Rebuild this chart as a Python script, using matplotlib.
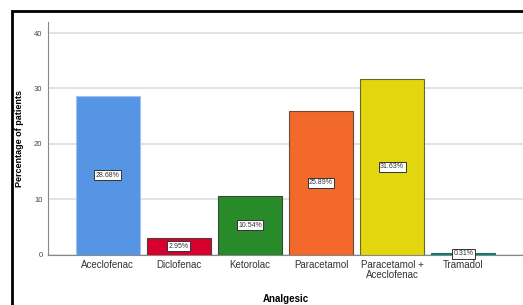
import matplotlib.pyplot as plt
from matplotlib.patches import Rectangle

plt.rcParams['font.family'] = ['Liberation Sans', 'DejaVu Sans']

# analgesic use (percentage of patients)
drugs = ["Aceclofenac", "Diclofenac", "Ketorolac", "Paracetamol",
         "Paracetamol +\nAceclofenac", "Tramadol"]
percent = [28.68, 2.95, 10.54, 25.89, 31.63, 0.31]
bar_colors = ["#5694e4", "#d8002e", "#298a2a", "#f2692b", "#e2d60f", "#157a6c"]
edge_colors = ["#9fc3ee", "#5a3a3a", "#3a4a3a", "#6a4a3a", "#6a6430", "#157a6c"]
yticks = [0, 10, 20, 30, 40]

fig = plt.figure(figsize=(5.23, 3.05), dpi=100)
ax = fig.add_axes([48/523, 1 - 254.5/305, (523 - 48)/523, (254.5 - 22)/305])

x = range(len(drugs))
ax.bar(x, percent, width=0.9, color=bar_colors, edgecolor=edge_colors, linewidth=0.8, zorder=3)

# value labels in the middle of each bar
for i, v in enumerate(percent):
    ax.text(i, v / 2, "%.2f%%" % v, ha="center", va="center", fontsize=5, color="#333333",
            bbox=dict(boxstyle="square,pad=0.2", fc="white", ec="#333333", lw=0.7), zorder=4)

ax.set_xlim(-0.84, 5.84)
ax.set_ylim(0, 42)
ax.set_yticks(yticks)
ax.set_xticks(list(x))
ax.set_xticklabels(drugs, fontsize=7, color="#333333", linespacing=0.95)
ax.tick_params(axis="y", labelsize=5.5, colors="#444444", length=0, pad=4)
ax.tick_params(axis="x", length=0, pad=4)
ax.yaxis.grid(True, color="#dddddd", linewidth=1.2, zorder=0)
ax.set_axisbelow(True)

for s in ["top", "right"]:
    ax.spines[s].set_visible(False)
ax.spines["left"].set_color("#888888")
ax.spines["bottom"].set_color("#888888")
ax.spines["left"].set_linewidth(0.8)
ax.spines["bottom"].set_linewidth(0.8)

ax.set_ylabel("Percentage of patients", fontsize=6.5, fontweight="bold")
ax.yaxis.set_label_coords(-24/475, 0.5)
ax.set_xlabel("Analgesic", fontsize=7, fontweight="bold")
ax.xaxis.set_label_coords(0.5, -39.5/232.5)

# black frame around the picture
fig.patches.append(Rectangle((12/523, -0.1), 1.2, 1 - 11/305 + 0.1, transform=fig.transFigure,
                             fill=False, ec="black", lw=2))

fig.savefig("out.png", dpi=100)
